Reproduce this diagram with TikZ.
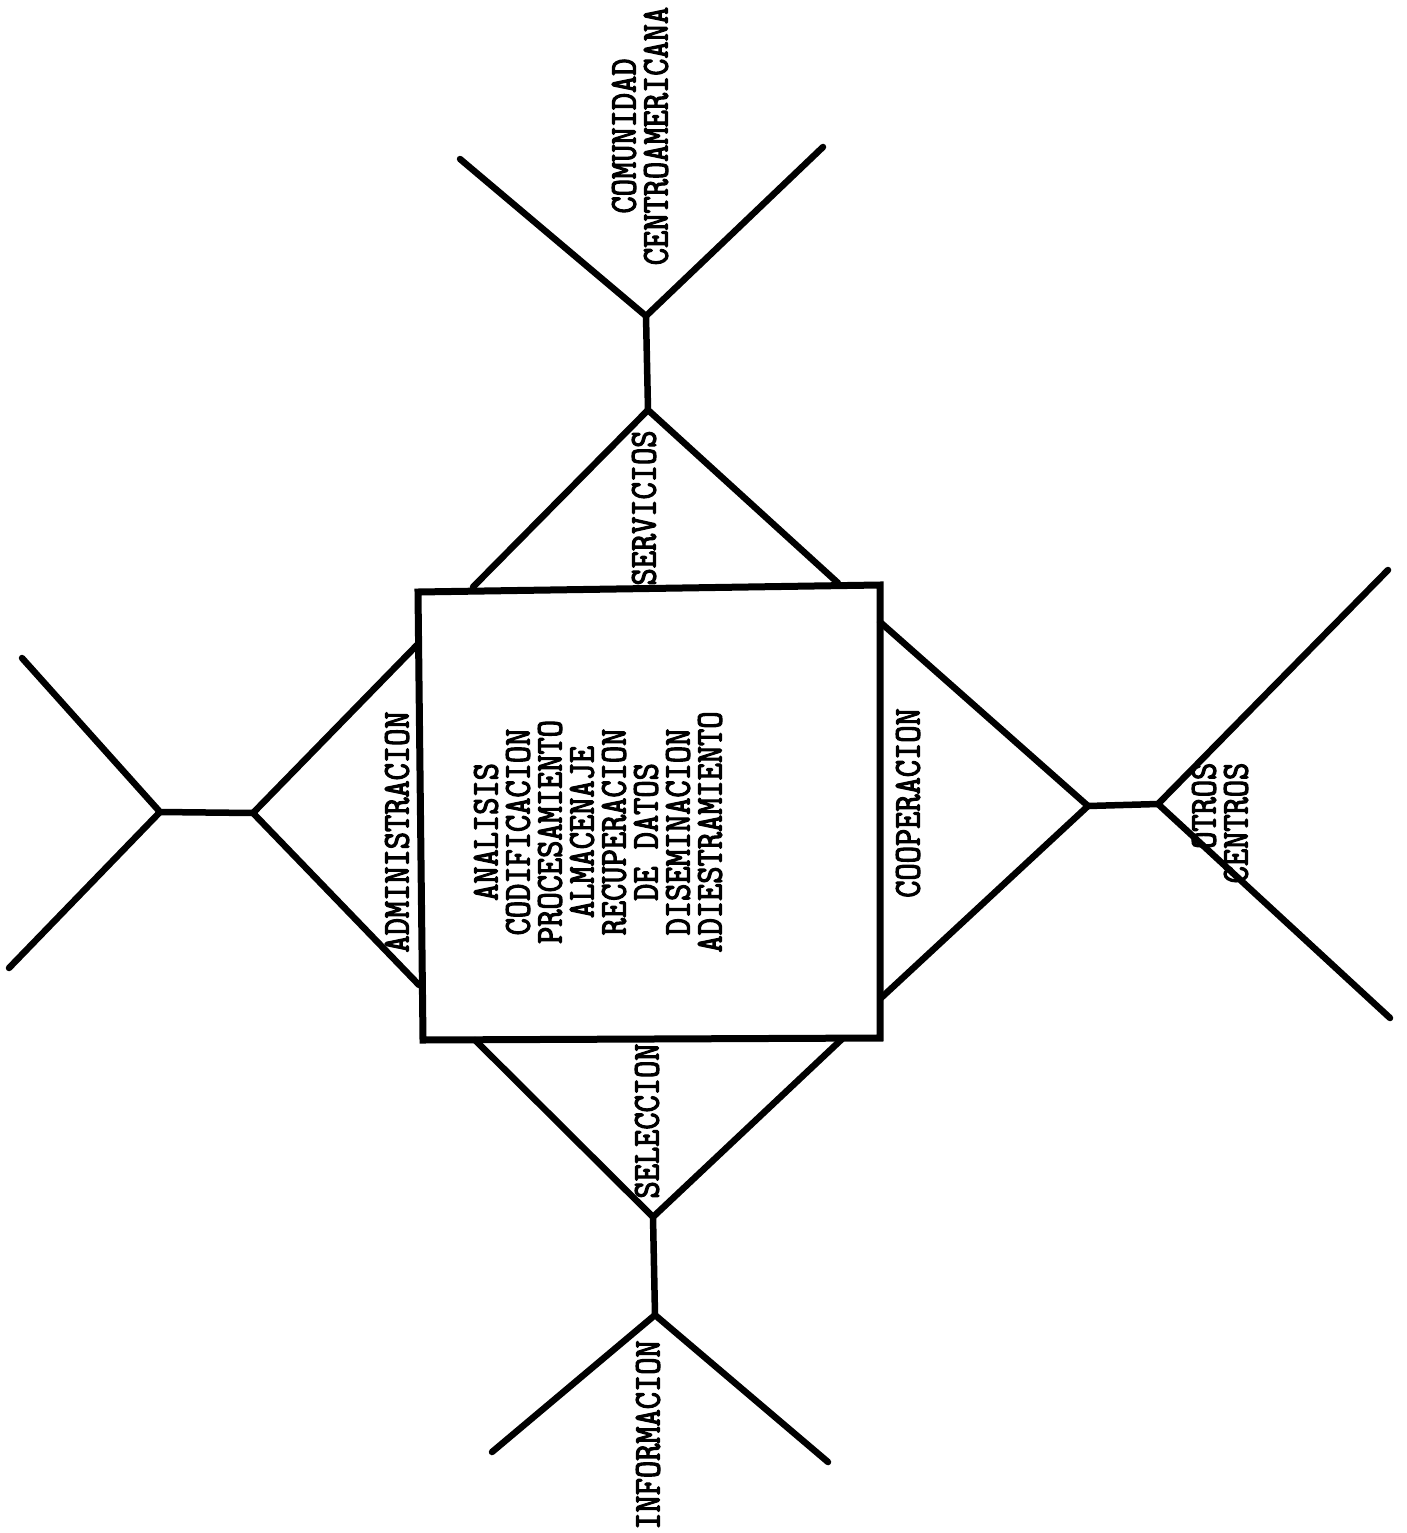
\documentclass[tikz,border=0pt]{standalone}
\usepackage{fontspec}
\newfontfamily\tw[FakeStretch=0.88, FakeBold=3]{Latin Modern Mono}
\begin{document}
\begin{tikzpicture}[x=1pt,y=-1pt, line width=6.5pt, line cap=round, line join=round,
  lbl/.style={rotate=90, font=\tw\fontsize{38}{32}\selectfont, inner sep=0pt, align=center}]
\useasboundingbox (0,0) rectangle (1406,1533);
% central box corners
\coordinate (tl) at (418,592);
\coordinate (tr) at (880,585);
\coordinate (br) at (880,1038);
\coordinate (bl) at (423,1040);
% top branch
\coordinate (tA) at (648,410);
\coordinate (tB) at (646,316);
\coordinate (tL) at (460,159);
\coordinate (tR) at (823,147);
\coordinate (t1) at (473,587);
\coordinate (t2) at (838,583);
% left branch
\coordinate (lA) at (253,813);
\coordinate (lB) at (160,812);
\coordinate (lU) at (22,658);
\coordinate (lD) at (9,968);
\coordinate (l1) at (417,645);
\coordinate (l2) at (419,985);
% right branch
\coordinate (rA) at (1088,806);
\coordinate (rB) at (1158,804);
\coordinate (rU) at (1388,570);
\coordinate (rD) at (1390,1018);
\coordinate (r1) at (880,622);
\coordinate (r2) at (881,998);
% bottom branch
\coordinate (bA) at (653,1217);
\coordinate (bB) at (655,1315);
\coordinate (bL) at (492,1452);
\coordinate (bR) at (828,1462);
\coordinate (b1) at (475,1040);
\coordinate (b2) at (842,1039);

\draw (t1) -- (tA) -- (t2);
\draw (tA) -- (tB);
\draw (tL) -- (tB) -- (tR);

\draw (l1) -- (lA) -- (l2);
\draw (lA) -- (lB);
\draw (lU) -- (lB) -- (lD);

\draw (r1) -- (rA) -- (r2);
\draw (rA) -- (rB);
\draw (rU) -- (rB) -- (rD);

\draw (b1) -- (bA) -- (b2);
\draw (bA) -- (bB);
\draw (bL) -- (bB) -- (bR);

\draw[line width=7pt, line cap=butt, line join=miter] (tl) -- (tr) -- (br) -- (bl) -- cycle;

\node[lbl] (ctr) at (598,832) {ANALISIS\\CODIFICACION\\PROCESAMIENTO\\ALMACENAJE\\RECUPERACION\\DE DATOS\\DISEMINACION\\ADIESTRAMIENTO};
\node[lbl] (com) at (640,136) {COMUNIDAD\\CENTROAMERICANA};
\node[lbl] (serv) at (644,508) {SERVICIOS};
\node[lbl] (adm) at (397,832) {ADMINISTRACION};
\node[lbl] (coop) at (908,803) {COOPERACION};
\node[lbl, align=right] (otros) at (1220,823) {OTROS\\CENTROS};
\node[lbl] (sel) at (647,1121) {SELECCION};
\node[lbl] (inf) at (648,1435) {INFORMACION};
\end{tikzpicture}
\end{document}
